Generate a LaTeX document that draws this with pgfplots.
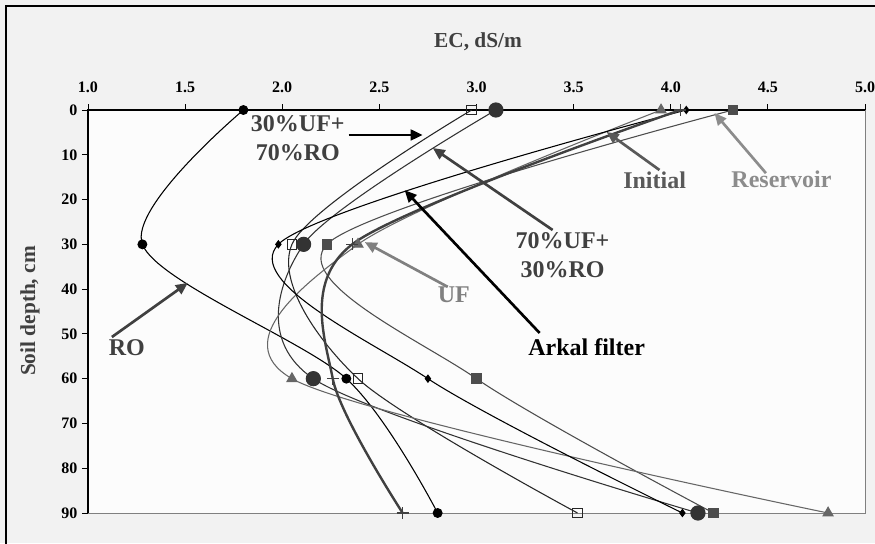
\documentclass[border=0pt]{standalone}
\usepackage{fontspec}
\setmainfont{Liberation Serif}
\usepackage{pgfplots}
\pgfplotsset{compat=1.18}
\usetikzlibrary{arrows.meta,backgrounds}
\definecolor{bgc}{HTML}{F2F2F2}
\definecolor{plotbg}{HTML}{FCFCFC}
\definecolor{dg}{HTML}{404040}
\definecolor{mg}{HTML}{595959}
\definecolor{lg}{HTML}{8C8C8C}
\definecolor{ufc}{HTML}{808080}
\definecolor{c30}{HTML}{262626}
\definecolor{c70}{HTML}{333333}
\definecolor{cres}{HTML}{4D4D4D}
\definecolor{cuf}{HTML}{666666}
\definecolor{cini}{HTML}{404040}
\begin{document}
\begin{tikzpicture}
\begin{axis}[
  scale only axis,
  width=582.75pt, height=302.25pt,
  xmin=1, xmax=5, ymin=0, ymax=90, y dir=reverse,
  xtick={1,1.5,2,2.5,3,3.5,4,4.5,5},
  xticklabels={1.0,1.5,2.0,2.5,3.0,3.5,4.0,4.5,5.0},
  ytick={0,10,20,30,40,50,60,70,80,90},
  yticklabels={0,10,20,30,40,50,60,70,80,90},
  xtick pos=right, ytick pos=left,
  xticklabel pos=right, yticklabel pos=left,
  tick align=outside, major tick length=4.5pt,
  tick style={black, line width=0.6pt},
  axis line style={draw=none},
  axis background/.style={fill=plotbg},
  ticklabel style={font=\bfseries\fontsize{12}{14}\selectfont, text=black},
  xticklabel style={yshift=5pt},
  clip=false,
]
\coordinate (O) at (axis cs:1,90);
\draw[gray, line width=0.6pt] (axis cs:1,90) -- (axis cs:5,90) -- (axis cs:5,0);
\draw[black, line width=1.1pt] (axis cs:1,90) -- (axis cs:1,0) -- (axis cs:5,0);
% RO
\addplot[black, line width=0.8pt, smooth, mark=*, mark size=3.3pt, mark options={solid, fill=black}]
  coordinates {(1.80,0) (1.28,30) (2.33,60) (2.80,90)};
% 30%UF+70%RO
\addplot[c30, line width=0.8pt, smooth, mark=square, mark size=3.6pt, mark options={solid, fill=white, draw=c30, line width=0.8pt}]
  coordinates {(2.975,0) (2.05,30) (2.39,60) (3.52,90)};
% 70%UF+30%RO
\addplot[c70, line width=0.8pt, smooth, mark=*, mark size=5.3pt, mark options={solid, fill=c70}]
  coordinates {(3.10,0) (2.11,30) (2.16,60) (4.14,90)};
% Reservoir
\addplot[cres, line width=0.8pt, smooth, mark=square*, mark size=3.6pt, mark options={solid, fill=cres}]
  coordinates {(4.32,0) (2.23,30) (3.00,60) (4.22,90)};
% UF
\addplot[cuf, line width=0.8pt, smooth, mark=triangle*, mark size=4.3pt, mark options={solid, fill=cuf}]
  coordinates {(3.95,0) (2.39,30) (2.05,60) (4.81,90)};
% Arkal filter
\addplot[black, line width=0.8pt, smooth, mark=diamond*, mark size=2.6pt, mark options={solid, fill=black}]
  coordinates {(4.08,0) (1.98,30) (2.75,60) (4.06,90)};
% Initial
\addplot[cini, line width=1.8pt, smooth, mark=+, mark size=4.5pt, mark options={solid, line width=0.8pt}]
  coordinates {(4.05,0) (2.36,30) (2.26,60) (2.62,90)};
% annotations
\tikzset{ann/.style={font=\bfseries\fontsize{18}{22}\selectfont, align=center, inner sep=0pt},
         arr/.style={line width=2pt, -{Triangle[length=9pt,width=8pt]}}}
\node[ann, text=dg] at (axis cs:2.08,6.25) {30\%UF+\\70\%RO};
\draw[arr, black] (axis cs:2.342,5.58) -- (axis cs:2.723,5.58);
\node[ann, text=dg] at (axis cs:3.443,32.4) {70\%UF+\\30\%RO};
\draw[arr, dg] (axis cs:3.392,26.8) -- (axis cs:2.775,8.49);
\node[ann, text=mg] at (axis cs:3.917,15.6) {Initial};
\draw[arr, mg] (axis cs:3.942,13.4) -- (axis cs:3.67,4.9);
\node[ann, text=lg] at (axis cs:4.57,15.4) {Reservoir};
\draw[arr, lg] (axis cs:4.49,14.1) -- (axis cs:4.225,0.67);
\node[ann, text=ufc] at (axis cs:2.883,41.3) {UF};
\draw[arr, ufc] (axis cs:2.852,39.5) -- (axis cs:2.425,29.5);
\node[ann, text=black] at (axis cs:3.567,52.9) {Arkal filter};
\draw[arr, black] (axis cs:3.325,49.8) -- (axis cs:2.63,17.9);
\node[ann, text=dg] at (axis cs:1.2,53.1) {RO};
\draw[arr, dg] (axis cs:1.123,50.7) -- (axis cs:1.514,38.6);
\end{axis}
\begin{scope}[x=0.75pt, y=0.75pt, shift={(O)}]
\begin{pgfonlayer}{background}
\fill[bgc] (-88,-30) rectangle (787,513);
\end{pgfonlayer}
\draw[black, line width=1.1pt] (-82,-60) -- (-82,507) -- (820,507);
\node[font=\bfseries\fontsize{16}{18}\selectfont, text=dg] at (390,471) {EC, dS/m};
\node[font=\bfseries\fontsize{16}{18}\selectfont, text=dg, rotate=90] at (-58,202) {Soil depth, cm};
\pgfresetboundingbox
\useasboundingbox (-88,-30) rectangle (787,513);
\end{scope}
\end{tikzpicture}
\end{document}
